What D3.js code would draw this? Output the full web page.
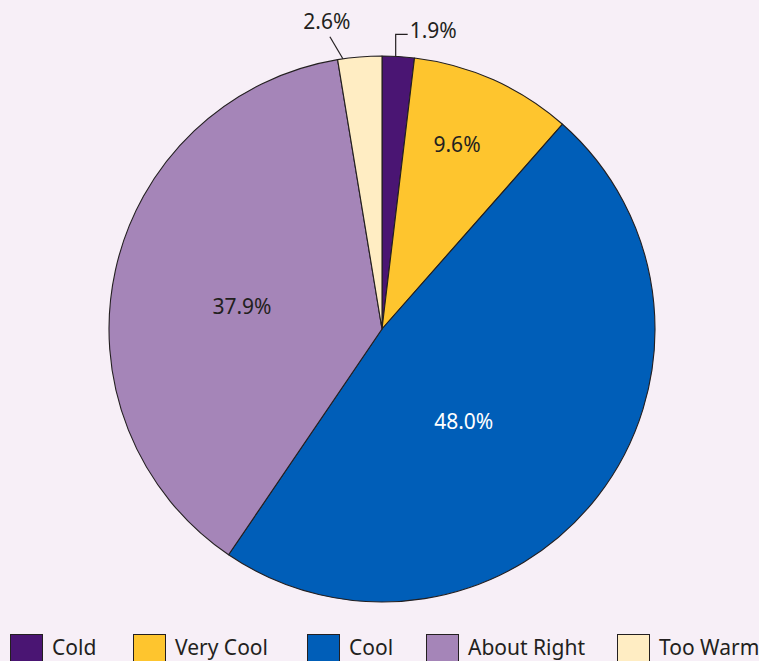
<!DOCTYPE html>
<html>
<head>
<meta charset="utf-8">
<script src="https://cdn.jsdelivr.net/npm/d3@7"></script>
<style>
  html, body { margin: 0; padding: 0; background: #f7eff7; }
  svg { display: block; }
  text { font-family: "Noto Sans", "Open Sans", sans-serif; fill: #231f20; }
</style>
</head>
<body>
<svg id="chart" width="759" height="661"></svg>
<script>
// ---- data ----
const categories = ["Cold", "Very Cool", "Cool", "About Right", "Too Warm"];
const values = [1.9, 9.6, 48.0, 37.9, 2.6];
const labels = ["1.9%", "9.6%", "48.0%", "37.9%", "2.6%"];
const colors = ["#4a1573", "#fec52e", "#005eb8", "#a585b8", "#ffedc3"];

// ---- layout / style ----
const W = 759, H = 661;
const cx = 382, cy = 329, R = 273;
const labelStyle = [
  {mode: "outside", leaderAt: 0.42, kind: "elbow"},
  {mode: "inside", rf: 0.73, shift: -2.0, fill: "#231f20"},
  {mode: "inside", rf: 0.45, shift: 10.5, fill: "#ffffff"},
  {mode: "inside", rf: 0.52, shift: -3.0, fill: "#231f20"},
  {mode: "outside", leaderAt: 0.12, kind: "straight"}
];

const svg = d3.select("#chart");
const g = svg.append("g").attr("transform", `translate(${cx},${cy})`);

const pie = d3.pie().sort(null).value(d => d);
const arcs = pie(values);
const arc = d3.arc().innerRadius(0).outerRadius(R);

g.selectAll("path.slice")
  .data(arcs)
  .join("path")
  .attr("class", "slice")
  .attr("d", arc)
  .attr("fill", (d, i) => colors[i])
  .attr("stroke", "#231f20")
  .attr("stroke-width", 1.1)
  .attr("stroke-linejoin", "round");

const pt = (ang, r) => [r * Math.sin(ang), -r * Math.cos(ang)];
const deg = Math.PI / 180;

arcs.forEach((d, i) => {
  const s = labelStyle[i];
  if (s.mode === "inside") {
    const a = (d.startAngle + d.endAngle) / 2 + s.shift * deg;
    const [x, y] = pt(a, R * s.rf);
    g.append("text")
      .attr("x", x).attr("y", y)
      .attr("text-anchor", "middle")
      .attr("dominant-baseline", "central")
      .style("font-size", "21px")
      .style("fill", s.fill)
      .text(labels[i]);
  } else {
    const a = d.startAngle + (d.endAngle - d.startAngle) * s.leaderAt;
    const [x0, y0] = pt(a, R);
    if (s.kind === "elbow") {
      const yTop = y0 - 22;
      g.append("path")
        .attr("d", `M${x0},${y0}V${yTop}H${x0 + 12}`)
        .attr("fill", "none").attr("stroke", "#231f20").attr("stroke-width", 1.2);
      g.append("text")
        .attr("x", x0 + 14).attr("y", yTop - 4)
        .attr("dominant-baseline", "central")
        .style("font-size", "21px")
        .text(labels[i]);
    } else {
      const x1 = x0 - 13, y1 = y0 - 22;
      g.append("path")
        .attr("d", `M${x0},${y0}L${x1},${y1}`)
        .attr("fill", "none").attr("stroke", "#231f20").attr("stroke-width", 1.2);
      g.append("text")
        .attr("x", x1 - 3).attr("y", y1 - 16)
        .attr("text-anchor", "middle")
        .attr("dominant-baseline", "central")
        .style("font-size", "21px")
        .text(labels[i]);
    }
  }
});

// ---- legend ----
const legendX = [10, 133, 307, 426, 617];
const leg = svg.append("g").attr("class", "legend");
categories.forEach((c, i) => {
  const item = leg.append("g").attr("transform", `translate(${legendX[i]},634)`);
  item.append("rect")
    .attr("x", 0.5).attr("y", 0.5)
    .attr("width", 32).attr("height", 32)
    .attr("fill", colors[i])
    .attr("stroke", "#231f20").attr("stroke-width", 1);
  item.append("text")
    .attr("x", 42).attr("y", 21)
    .style("font-size", "21px")
    .text(c);
});
</script>
</body>
</html>
